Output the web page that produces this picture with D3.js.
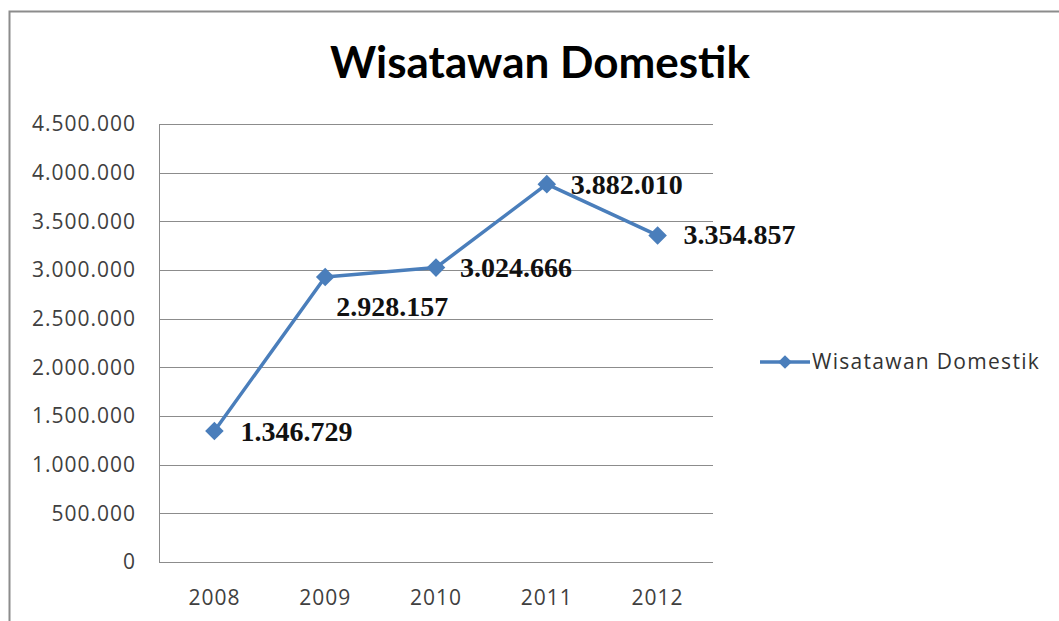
<!DOCTYPE html>
<html>
<head>
  <style type="text/css">
    body { margin: 0; background: #fff; }
  </style>
</head>
<body>
  <svg width="1059" height="621" id="chart"></svg>
  <script src="https://d3js.org/d3.v7.min.js"></script>
  <script>

let years = ['2008', '2009', '2010', '2011', '2012']
let visitors = [1346729, 2928157, 3024666, 3882010, 3354857]
let yTicks = [0, 500000, 1000000, 1500000, 2000000, 2500000, 3000000, 3500000, 4000000, 4500000]
let seriesName = 'Wisatawan Domestik'

// label offsets relative to each point (dx, dy)
let labelOffsets = [[26, 10], [11, 39], [24, 9], [24, 10], [26, 9]]

function translate(x, y) { return 'translate(' + x + ',' + y + ')'; }

function fmt(v) {
  return v === 0 ? '0' : d3.format(',')(v).replace(/,/g, '.')
}

let svg = d3.select('#chart')
let blue = '#4a7ebb'
let sans = '"Open Sans", Lato, sans-serif'

// outer chart frame
svg.append('rect')
  .attr('x', 9.5).attr('y', 11.5)
  .attr('width', 1100).attr('height', 700)
  .attr('fill', 'white')
  .attr('stroke', '#8c8c8c')
  .attr('stroke-width', 2)

svg.append('text')
  .attr('x', 540).attr('y', 78)
  .attr('text-anchor', 'middle')
  .attr('font-family', 'Lato, "Open Sans", sans-serif')
  .attr('font-weight', 'bold')
  .attr('font-size', 44)
  .attr('fill', '#000')
  .text('Wisatawan Domestik')

let plotLeft = 159, plotRight = 713, plotTop = 124, plotBottom = 562

let x = d3.scaleBand().domain(years).range([plotLeft, plotRight])
let y = d3.scaleLinear().domain([0, 4500000]).range([plotBottom, plotTop])

let g = svg.append('g')

// gridlines
g.selectAll('line.grid')
  .data(yTicks)
  .enter()
  .append('line')
    .attr('class', 'grid')
    .attr('x1', plotLeft).attr('x2', plotRight)
    .attr('y1', d => Math.round(y(d)) + 0.5)
    .attr('y2', d => Math.round(y(d)) + 0.5)
    .attr('stroke', '#8c8c8c')
    .attr('stroke-width', 1)

// y axis line
g.append('line')
  .attr('x1', plotLeft + 0.5).attr('x2', plotLeft + 0.5)
  .attr('y1', plotTop).attr('y2', plotBottom)
  .attr('stroke', '#8c8c8c')

let yAxis = d3.axisLeft(y).tickValues(yTicks).tickFormat(fmt).tickSize(0).tickPadding(23)
let ya = svg.append('g').attr('transform', translate(plotLeft, 0)).call(yAxis)
ya.select('.domain').remove()
ya.selectAll('text')
  .attr('font-family', sans)
  .attr('font-size', 21)
  .attr('letter-spacing', 1)
  .attr('fill', '#404040')

let xAxis = d3.axisBottom(x).tickSize(0).tickPadding(28)
let xa = svg.append('g').attr('transform', translate(0, plotBottom)).call(xAxis)
xa.select('.domain').remove()
xa.selectAll('text')
  .attr('font-family', sans)
  .attr('font-size', 21)
  .attr('letter-spacing', 1)
  .attr('fill', '#404040')

let px = (d, i) => x(years[i]) + x.bandwidth() / 2
let line = d3.line().x((d, i) => px(d, i)).y(d => y(d))

g.append('path')
  .datum(visitors)
  .attr('d', line)
  .attr('fill', 'none')
  .attr('stroke', blue)
  .attr('stroke-width', 3.5)
  .attr('stroke-linejoin', 'round')

let diamond = d3.symbol().type(d3.symbolDiamond2).size(220)

g.selectAll('path.marker')
  .data(visitors)
  .enter()
  .append('path')
    .attr('class', 'marker')
    .attr('d', diamond)
    .attr('transform', (d, i) => translate(px(d, i), y(d)))
    .attr('fill', blue)

g.selectAll('text.label')
  .data(visitors)
  .enter()
  .append('text')
    .attr('class', 'label')
    .attr('x', (d, i) => px(d, i) + labelOffsets[i][0])
    .attr('y', (d, i) => y(d) + labelOffsets[i][1])
    .attr('font-family', '"Liberation Serif", "Times New Roman", serif')
    .attr('font-weight', 'bold')
    .attr('font-size', 28)
    .attr('fill', '#111')
    .text(fmt)

// legend
let lg = svg.append('g').attr('transform', translate(760, 362))
lg.append('line')
  .attr('x1', 0).attr('x2', 50)
  .attr('stroke', blue).attr('stroke-width', 3.5)
lg.append('path')
  .attr('d', d3.symbol().type(d3.symbolDiamond2).size(120))
  .attr('transform', translate(25, 0))
  .attr('fill', blue)
lg.append('text')
  .attr('x', 52).attr('y', 7)
  .attr('font-family', sans)
  .attr('font-size', 21)
  .attr('letter-spacing', 1.3)
  .attr('fill', '#333')
  .text(seriesName)

  </script>
</body>
</html>
